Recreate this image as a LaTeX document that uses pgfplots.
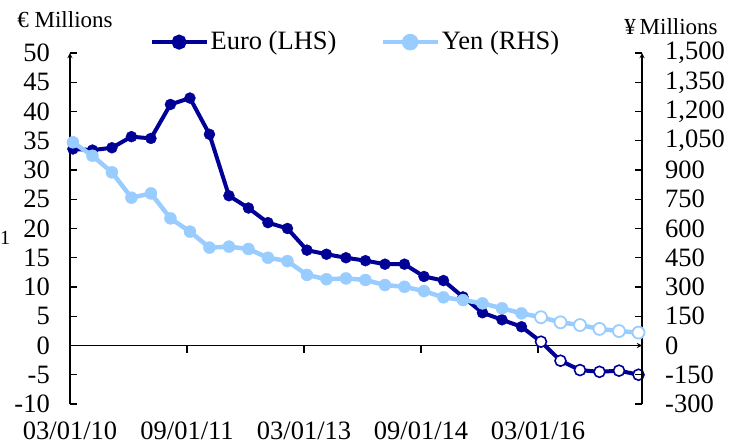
\documentclass[border=0pt]{standalone}
\usepackage{fontspec}
\setmainfont{Liberation Serif}
\usepackage{pgfplots}
\pgfplotsset{compat=1.18}
\definecolor{euro}{RGB}{0,0,150}
\definecolor{yen}{RGB}{153,204,255}
\pgfplotstableread{
x y
0.15 33.6
1.15 33.4
2.15 33.8
3.15 35.7
4.15 35.4
5.15 41.2
6.15 42.3
7.15 36.1
8.15 25.6
9.15 23.5
10.15 21.0
11.15 20.0
12.15 16.3
13.15 15.6
14.15 15.0
15.15 14.5
16.15 13.9
17.15 13.9
18.15 11.8
19.15 11.1
20.15 8.3
21.15 5.6
22.15 4.4
23.15 3.2
24.15 0.65
25.15 -2.6
26.15 -4.2
27.15 -4.5
28.15 -4.3
29.15 -5.0
}\euroall
\pgfplotstableread{
x y
0.15 1042
1.15 973
2.15 888
3.15 758
4.15 780
5.15 652
6.15 584
7.15 502
8.15 507
9.15 495
10.15 450
11.15 433
12.15 362
13.15 340
14.15 344
15.15 336
16.15 310
17.15 301
18.15 279
19.15 247
20.15 233
21.15 216
22.15 191
23.15 165
24.15 145
25.15 119
26.15 105
27.15 85
28.15 74
29.15 66
}\yenall
\begin{document}
\fontsize{26.5bp}{30bp}\selectfont
\begin{tikzpicture}
\path[use as bounding box] (-70bp,-42bp) rectangle (669bp,404bp);
\pgfplotsset{
  common/.style={
    scale only axis, width=572bp, height=351bp,
    xmin=0, xmax=29.33,
    axis line style={-, line width=1.3bp, black},
    every outer x axis line/.append style={-},
    every outer y axis line/.append style={-},
    every inner x axis line/.append style={-},
    major tick length=7bp,
    tick style={line width=1.3bp, black},
    /pgf/number format/assume math mode=true,
    /pgf/number format/1000 sep={,},
  },
}
\begin{axis}[common,
  ymin=-10, ymax=50,
  axis x line=middle, axis y line=left,
  hide obscured x ticks=false,
  xtick={0,6,12,18,24},
  xticklabels={03/01/10,09/01/11,03/01/13,09/01/14,03/01/16},
  xtick align=outside,
  ytick={-10,-5,...,50},
  ytick align=inside,
  yticklabel style={anchor=east, inner sep=0pt, xshift=-20bp},
  xticklabel style={anchor=north, inner sep=0pt, yshift=-69.5bp},
]
\addplot[euro, line width=4bp, no markers] table[x=x,y=y] {\euroall};
\addplot[only marks, mark=*, mark size=5.5bp, color=euro, restrict expr to domain={\coordindex}{0:23}] table[x=x,y=y] {\euroall};
\addplot[only marks, mark=*, mark size=5.5bp, draw=euro, fill=white, mark options={line width=1.6bp}, restrict expr to domain={\coordindex}{24:29}] table[x=x,y=y] {\euroall};
\end{axis}
\begin{axis}[common,
  ymin=-300, ymax=1500,
  axis x line=none, axis y line=right,
  ytick={-300,-150,...,1500},
  ytick align=inside,
  yticklabel style={anchor=west, inner sep=0pt, xshift=23bp},
  legend columns=2,
  legend cell align=left,
  legend style={at={(0.499,1.031)}, anchor=center, draw=none, fill=none,
    /tikz/every even column/.append style={column sep=42bp}},
  legend image code/.code={\draw[mark repeat=2,mark phase=2] plot coordinates {(0bp,0bp) (27.5bp,0bp) (55bp,0bp)};},
]
\addlegendimage{euro, line width=4bp, mark=*, mark size=5.5bp}
\addlegendentry{Euro (LHS)}
\addlegendimage{yen, line width=4.5bp, mark=*, mark size=6bp}
\addlegendentry{Yen (RHS)}
\addplot[yen, line width=4.5bp, no markers, forget plot] table[x=x,y=y] {\yenall};
\addplot[only marks, mark=*, mark size=6bp, color=yen, forget plot, restrict expr to domain={\coordindex}{0:23}] table[x=x,y=y] {\yenall};
\addplot[only marks, mark=*, mark size=6bp, draw=yen, fill=white, mark options={line width=1.8bp}, forget plot, restrict expr to domain={\coordindex}{24:29}] table[x=x,y=y] {\yenall};
\end{axis}
\node[font=\fontsize{23bp}{27bp}\selectfont] at (-5bp,384bp) {€ Millions};
\node[font=\fontsize{23bp}{27bp}\selectfont] at (601bp,377bp) {¥\,Millions};
\node[anchor=west, inner sep=0pt, font=\fontsize{20bp}{24bp}\selectfont] at (-70bp,166bp) {1};
\end{tikzpicture}
\end{document}
